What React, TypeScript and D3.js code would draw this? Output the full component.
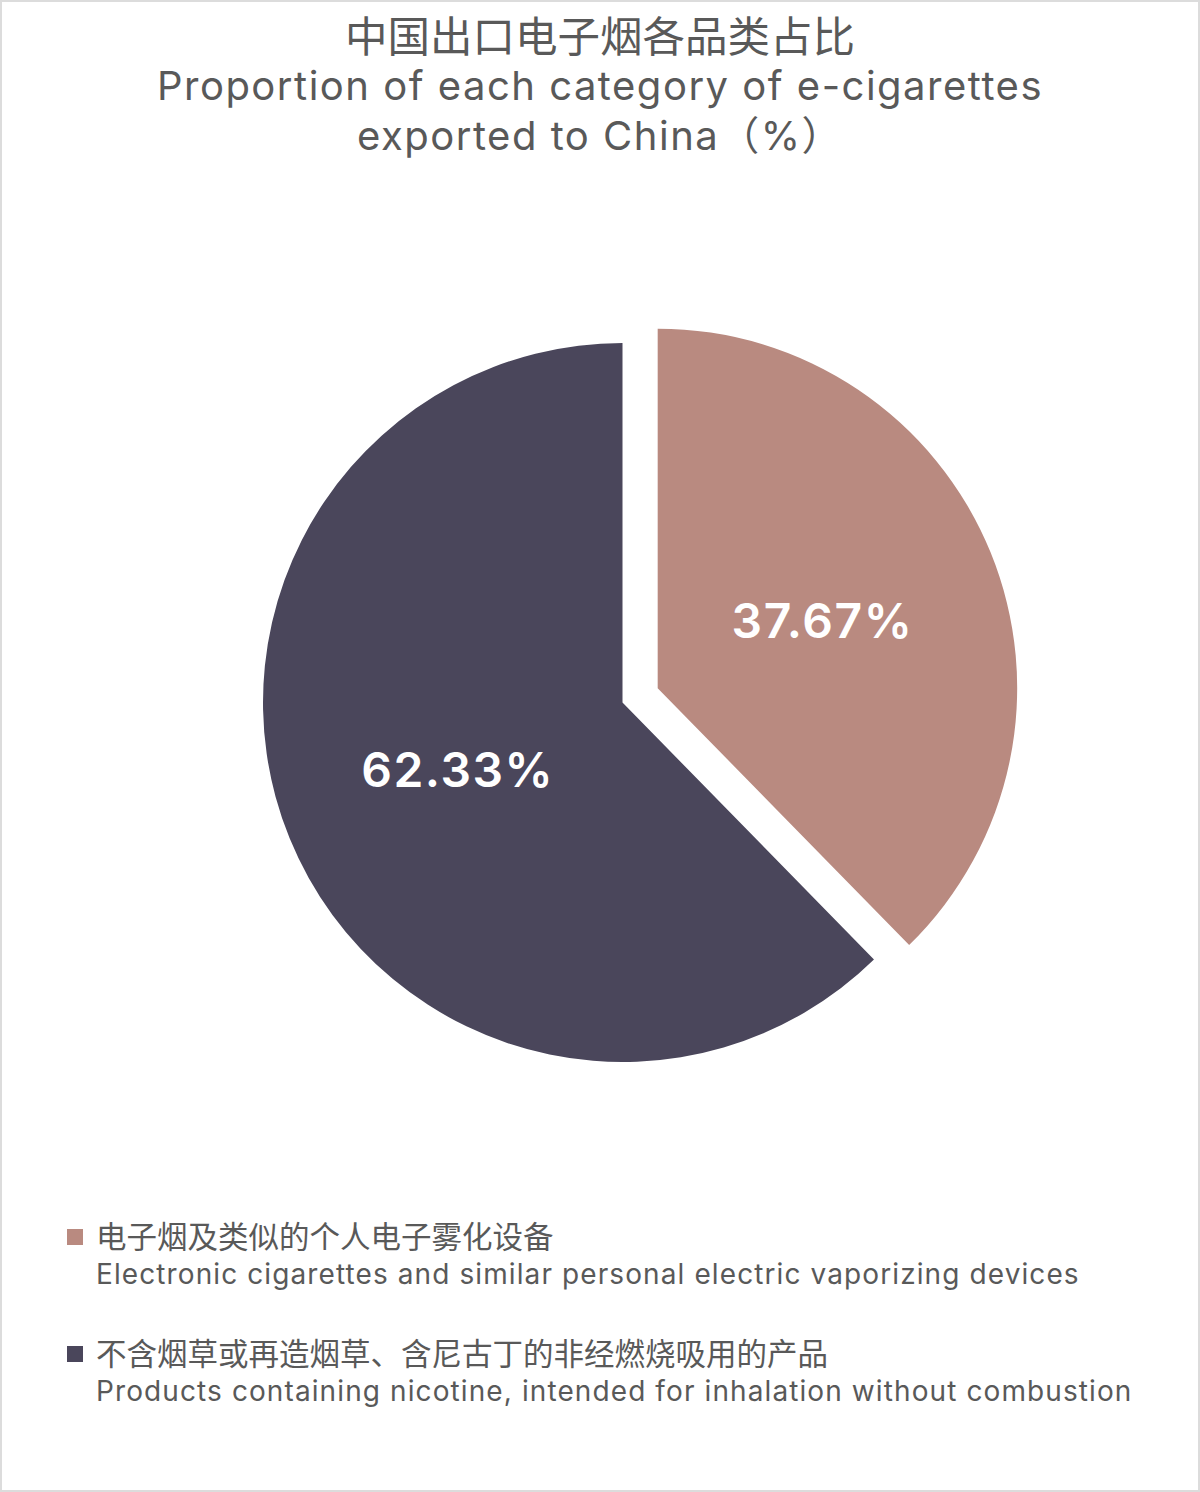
import React from "react";
import * as d3 from "d3";

const titleLines = [
  "中国出口电子烟各品类占比",
  "Proportion of each category of e-cigarettes",
  "exported to China（%）",
];
const categoriesZh = [
  "电子烟及类似的个人电子雾化设备",
  "不含烟草或再造烟草、含尼古丁的非经燃烧吸用的产品",
];
const categoriesEn = [
  "Electronic cigarettes and similar personal electric vaporizing devices",
  "Products containing nicotine, intended for inhalation without combustion",
];
const values = [37.67, 62.33];
const colors = ["#b98a80", "#4a465b"];

const W = 1200;
const H = 1492;
const cx = 622.5;
const cy = 702.5;
const R = 359.5;
const explode = [38, 0];
const FONT = "Inter, 'Noto Sans CJK SC', sans-serif";
const ZH = "'Noto Sans CJK SC', sans-serif";

export default function App() {
  const pie = d3.pie<number>().sort(null).value((d) => d)(values);
  const arc = d3.arc<d3.PieArcDatum<number>>().innerRadius(0).outerRadius(R);
  const labelArc = d3.arc<d3.PieArcDatum<number>>().innerRadius(178).outerRadius(178);

  return (
    <svg
      width={W}
      height={H}
      style={{ position: "absolute", left: 0, top: 0, background: "#fff" }}
      fontFamily={FONT}
    >
      <rect x={1} y={1} width={W - 2} height={H - 2} fill="#fff" stroke="#dcdcdc" strokeWidth={2} />
      <text x={600} y={52} textAnchor="middle" fontSize={42.5} fill="#595959" fontFamily={ZH}>
        {titleLines[0]}
      </text>
      {titleLines.slice(1).map((t, i) => (
        <text
          key={i}
          x={600}
          y={[100, 150][i]}
          textAnchor="middle"
          fontSize={40}
          letterSpacing={1.5}
          fill="#595959"
        >
          {t}
        </text>
      ))}
      {pie.map((p, i) => {
        const mid = (p.startAngle + p.endAngle) / 2;
        const dx = Math.sin(mid) * explode[i];
        const dy = -Math.cos(mid) * explode[i];
        const [lx, ly] = labelArc.centroid(p);
        return (
          <g key={i} transform={`translate(${cx + dx},${cy + dy})`}>
            <path d={arc(p) || ""} fill={colors[i]} />
            <text
              x={lx}
              y={ly + 17}
              textAnchor="middle"
              fontSize={48}
              fontWeight={600}
              letterSpacing={1.5}
              fill="#fff"
            >
              {values[i].toFixed(2)}%
            </text>
          </g>
        );
      })}
      {categoriesZh.map((c, i) => {
        const y0 = 1237 + i * 117;
        return (
          <g key={i}>
            <rect x={67} y={y0 - 8} width={16} height={16} fill={colors[i]} />
            <text x={96} y={y0 + 11} fontSize={30.5} fill="#595959" fontFamily={ZH}>
              {c}
            </text>
            <text x={96} y={y0 + 47} fontSize={28} letterSpacing={1.1} fill="#595959">
              {categoriesEn[i]}
            </text>
          </g>
        );
      })}
    </svg>
  );
}
